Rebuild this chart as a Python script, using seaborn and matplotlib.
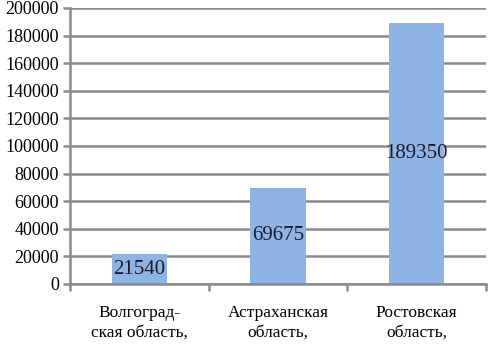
import matplotlib
matplotlib.use("Agg")
import matplotlib.pyplot as plt
import seaborn as sns
import pandas as pd

categories = ["Волгоград-\nская область,", "Астраханская\nобласть,", "Ростовская\nобласть,"]
values = [21540, 69675, 189350]
value_labels = ["21540", "69675", "189350"]
yticks = [0, 20000, 40000, 60000, 80000, 100000, 120000, 140000, 160000, 180000, 200000]

sns.set_theme(style="white")
plt.rcParams["font.family"] = ["Liberation Serif", "DejaVu Serif"]

df = pd.DataFrame({"cat": categories, "val": values})

fig = plt.figure(figsize=(4.88, 3.45), dpi=100)
ax = fig.add_axes([70/488, 61/345, 416/488, 276/345])
sns.barplot(data=df, x="cat", y="val", color="#8EB4E3", width=0.4, ax=ax,
            saturation=1, edgecolor="none")

ax.set_ylim(0, 200000)
ax.set_xlim(-0.5, 2.5)
ax.set_yticks(yticks)
ax.set_yticklabels([str(t) for t in yticks], fontsize=13, color="black")
ax.yaxis.grid(True, color="#8a8a8a", linewidth=1.8)
ax.set_axisbelow(True)
ax.set_xlabel("")
ax.set_ylabel("")

for s in ["top", "right"]:
    ax.spines[s].set_visible(False)
for s in ["left", "bottom"]:
    ax.spines[s].set_color("#8a8a8a")
    ax.spines[s].set_linewidth(1.8)

ax.tick_params(axis="y", which="major", length=5, width=1.8, color="#8a8a8a", direction="out", pad=3, left=True)
ax.tick_params(axis="x", which="major", length=0, pad=15, labelsize=12.5, labelcolor="black")
ax.set_xticks([-0.5, 0.5, 1.5, 2.5], minor=True)
ax.tick_params(axis="x", which="minor", length=5, width=1.8, color="#8a8a8a", direction="out", bottom=True)
for lab in ax.get_xticklabels():
    lab.set_linespacing(1.35)

for i, (v, t) in enumerate(zip(values, value_labels)):
    ax.text(i, v / 2, t, ha="center", va="center", fontsize=15, color="#1a1a2e")

fig.savefig("out.png", dpi=100)
